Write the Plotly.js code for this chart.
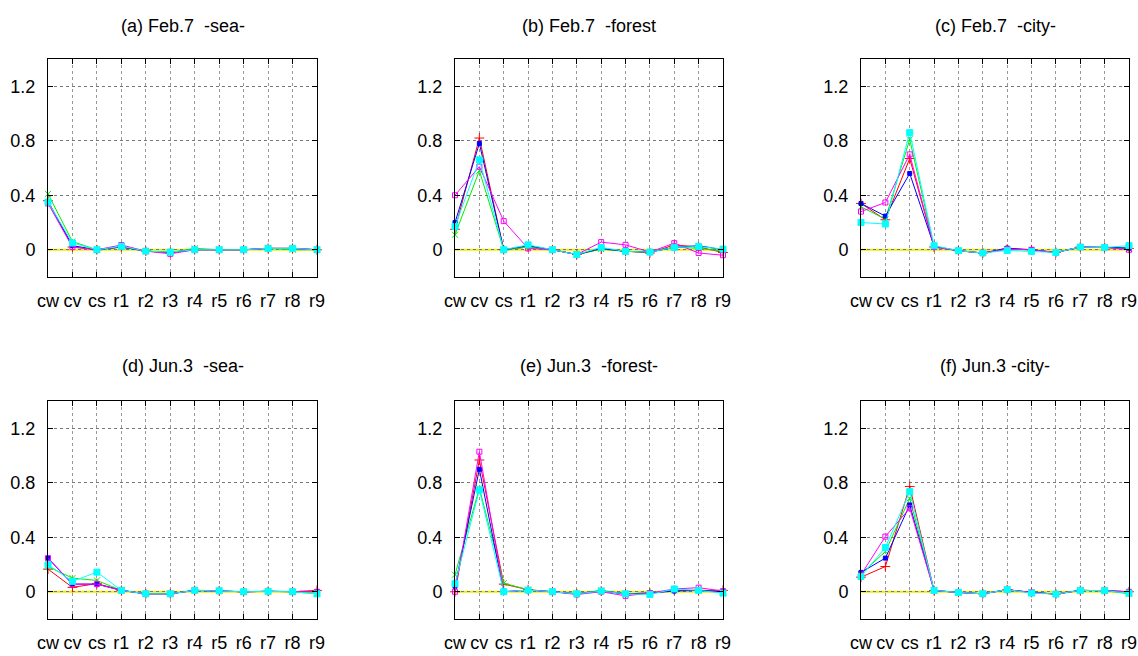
<!DOCTYPE html>
<html>
<head>
<meta charset="utf-8">
<script src="https://cdn.plot.ly/plotly-3.0.1.min.js"></script>
<style>html,body{margin:0;padding:0;background:#fff;}#chart{width:1138px;height:656px;}</style>
</head>
<body>
<div id="chart"></div>
<script>
// Categories
const categories = ["cw","cv","cs","r1","r2","r3","r4","r5","r6","r7","r8","r9"];
const yTickVals = [0, 0.4, 0.8, 1.2];
const yTickText = ["0", "0.4", "0.8", "1.2"];
const panelTitles = [
  "(a) Feb.7\u00a0\u00a0-sea-",
  "(b) Feb.7\u00a0\u00a0-forest",
  "(c) Feb.7\u00a0\u00a0-city-",
  "(d) Jun.3\u00a0\u00a0-sea-",
  "(e) Jun.3\u00a0\u00a0-forest-",
  "(f) Jun.3 -city-"
];

// (a) Feb.7 sea
const a_red     = [0.36, 0.02, 0.00, 0.02, -0.01, -0.02, 0.00, 0.00, 0.00, 0.01, 0.01, 0.00];
const a_green   = [0.41, 0.06, 0.00, 0.02, -0.01, -0.02, 0.01, 0.00, 0.00, 0.01, 0.00, 0.00];
const a_blue    = [0.35, 0.03, 0.00, 0.02, -0.01, -0.02, 0.00, 0.00, 0.00, 0.01, 0.01, 0.00];
const a_magenta = [0.34, 0.02, 0.00, 0.035, -0.01, -0.03, 0.00, 0.00, 0.00, 0.01, 0.01, 0.00];
const a_cyan    = [0.35, 0.05, 0.00, 0.025, -0.01, -0.017, 0.00, 0.00, 0.00, 0.01, 0.01, 0.00];

// (b) Feb.7 forest
const b_red     = [0.15, 0.82, 0.00, 0.02, 0.00, -0.035, 0.005, -0.012, -0.024, 0.036, 0.02, -0.02];
const b_green   = [0.11, 0.58, 0.00, 0.02, 0.00, -0.035, 0.005, -0.012, -0.017, 0.02, 0.01, -0.01];
const b_blue    = [0.20, 0.78, 0.00, 0.03, 0.00, -0.035, 0.01, -0.012, -0.017, 0.017, 0.03, 0.00];
const b_magenta = [0.40, 0.61, 0.21, 0.01, 0.00, -0.035, 0.056, 0.036, -0.017, 0.048, -0.024, -0.04];
const b_cyan    = [0.17, 0.66, 0.00, 0.036, 0.00, -0.035, 0.017, -0.012, -0.017, 0.017, 0.024, 0.005];

// (c) Feb.7 city
const c_red     = [0.34, 0.22, 0.67, 0.02, -0.007, -0.024, 0.005, 0.00, -0.02, 0.02, 0.017, 0.01];
const c_green   = [0.315, 0.225, 0.81, 0.02, -0.007, -0.024, 0.005, 0.00, -0.02, 0.02, 0.017, 0.01];
const c_blue    = [0.34, 0.247, 0.56, 0.025, -0.007, -0.024, 0.012, 0.00, -0.02, 0.02, 0.017, 0.012];
const c_magenta = [0.28, 0.347, 0.70, 0.02, -0.007, -0.024, 0.005, 0.00, -0.02, 0.02, 0.017, 0.00];
const c_cyan    = [0.20, 0.189, 0.86, 0.03, -0.007, -0.024, -0.005, -0.012, -0.02, 0.02, 0.017, 0.03];

// (d) Jun.3 sea
const d_red     = [0.166, 0.032, 0.06, 0.01, -0.015, -0.015, 0.01, 0.007, 0.00, 0.003, 0.00, 0.01];
const d_green   = [0.185, 0.10, 0.083, 0.01, -0.015, -0.015, 0.012, 0.007, 0.00, 0.003, 0.00, -0.015];
const d_blue    = [0.247, 0.056, 0.056, 0.01, -0.015, -0.015, 0.01, 0.007, 0.00, 0.003, 0.00, 0.00];
const d_magenta = [0.247, 0.056, 0.056, 0.01, -0.015, -0.015, 0.01, 0.007, 0.00, 0.003, 0.00, 0.00];
const d_cyan    = [0.198, 0.076, 0.144, 0.01, -0.015, -0.015, 0.01, 0.007, 0.00, 0.003, 0.00, -0.015];

// (e) Jun.3 forest
const e_red     = [0.00, 0.967, 0.056, 0.015, 0.00, -0.015, 0.005, -0.015, -0.01, 0.01, 0.01, 0.01];
const e_green   = [0.125, 0.76, 0.063, 0.015, 0.00, -0.015, 0.01, -0.015, -0.01, 0.01, 0.01, -0.005];
const e_blue    = [0.04, 0.899, 0.00, 0.012, 0.00, -0.015, 0.005, -0.015, -0.01, 0.005, 0.01, 0.00];
const e_magenta = [0.00, 1.028, 0.00, 0.012, 0.00, -0.02, 0.00, -0.03, -0.01, 0.02, 0.03, 0.005];
const e_cyan    = [0.059, 0.747, 0.00, 0.012, 0.00, -0.015, 0.005, -0.015, -0.02, 0.02, 0.01, -0.01];

// (f) Jun.3 city
const f_red     = [0.107, 0.185, 0.772, 0.009, -0.005, -0.015, 0.015, -0.005, -0.017, 0.01, 0.008, 0.00];
const f_green   = [0.13, 0.295, 0.685, 0.009, -0.005, -0.015, 0.015, -0.005, -0.017, 0.01, 0.008, -0.015];
const f_blue    = [0.142, 0.247, 0.637, 0.009, -0.005, -0.015, 0.015, -0.005, -0.017, 0.01, 0.008, 0.00];
const f_magenta = [0.125, 0.405, 0.613, 0.009, -0.005, -0.015, 0.015, -0.005, -0.017, 0.01, 0.008, 0.00];
const f_cyan    = [0.112, 0.325, 0.735, 0.009, -0.005, -0.015, 0.015, -0.01, -0.017, 0.01, 0.008, -0.01];

const panels = [
  [a_red, a_green, a_blue, a_magenta, a_cyan],
  [b_red, b_green, b_blue, b_magenta, b_cyan],
  [c_red, c_green, c_blue, c_magenta, c_cyan],
  [d_red, d_green, d_blue, d_magenta, d_cyan],
  [e_red, e_green, e_blue, e_magenta, e_cyan],
  [f_red, f_green, f_blue, f_magenta, f_cyan]
];

const seriesStyles = [
  {color: "#ff0000", symbol: "cross-thin-open", size: 7},
  {color: "#00ee00", symbol: "x-thin-open", size: 6},
  {color: "#0000ff", symbol: "square", size: 4},
  {color: "#ff00ff", symbol: "square-open", size: 5},
  {color: "#00ffff", symbol: "square", size: 6}
];

const W = 1138, H = 656;
const xDomainsPx = [[48, 317], [455, 723], [861, 1129]];
const yDomainsPx = [[59, 277], [401, 619]];
const FONT = "Liberation Sans Narrow, Liberation Sans, Arial, sans-serif";

const xIdx = categories.map((c, i) => i);
const traces = [];
const layout = {
  width: W, height: H,
  margin: {l: 0, r: 0, t: 0, b: 0},
  paper_bgcolor: "#ffffff",
  plot_bgcolor: "rgba(0,0,0,0)",
  showlegend: false,
  font: {family: FONT, size: 18, color: "#000"},
  annotations: [],
  shapes: []
};

panels.forEach((series, p) => {
  const col = p % 3, row = Math.floor(p / 3);
  const n = p + 1;
  const xa = "xaxis" + (n === 1 ? "" : n);
  const ya = "yaxis" + (n === 1 ? "" : n);
  const xr = "x" + (n === 1 ? "" : n);
  const yr = "y" + (n === 1 ? "" : n);
  const xd = xDomainsPx[col], yd = yDomainsPx[row];
  layout[xa] = {
    domain: [xd[0] / W, xd[1] / W],
    anchor: yr,
    range: [0, categories.length - 1],
    tickmode: "array",
    tickvals: xIdx,
    ticktext: categories,
    showgrid: true,
    gridcolor: "#999",
    griddash: "dot",
    gridwidth: 1,
    zeroline: false,
    showline: true,
    linecolor: "#000",
    linewidth: 1,
    mirror: "ticks",
    ticks: "inside",
    ticklen: 5,
    tickcolor: "#000",
    ticklabelstandoff: 7,
    tickfont: {family: FONT, size: 18, color: "#000"},
    fixedrange: true
  };
  layout[ya] = {
    domain: [1 - yd[1] / H, 1 - yd[0] / H],
    anchor: xr,
    range: [-0.2, 1.4],
    tickmode: "array",
    tickvals: yTickVals,
    ticktext: yTickText,
    showgrid: true,
    gridcolor: "#777",
    griddash: "dot",
    gridwidth: 1,
    zeroline: false,
    showline: true,
    linecolor: "#000",
    linewidth: 1,
    mirror: "ticks",
    ticks: "inside",
    ticklen: 5,
    tickcolor: "#000",
    ticklabelstandoff: 8,
    tickfont: {family: FONT, size: 18, color: "#000"},
    fixedrange: true
  };
  layout.shapes.push({
    type: "line", xref: xr + " domain", yref: yr,
    x0: 0, x1: 1, y0: 0, y1: 0,
    line: {color: "#eeee00", width: 2},
    layer: "below"
  });
  layout.annotations.push({
    text: panelTitles[p],
    xref: "paper", yref: "paper",
    x: (xd[0] + xd[1]) / 2 / W,
    y: 1 - (row === 0 ? 26 : 366) / H,
    xanchor: "center", yanchor: "middle",
    showarrow: false,
    font: {family: FONT, size: 18, color: "#000"}
  });
  series.forEach((vals, s) => {
    const st = seriesStyles[s];
    traces.push({
      type: "scatter", mode: "lines+markers",
      x: xIdx, y: vals,
      xaxis: xr, yaxis: yr,
      line: {color: st.color, width: 1},
      marker: {color: st.color, symbol: st.symbol, size: st.size,
               line: {color: st.color, width: 1}},
      hoverinfo: "skip",
      cliponaxis: false
    });
  });
});

Plotly.newPlot("chart", traces, layout, {staticPlot: true, displayModeBar: false});
</script>
</body>
</html>
